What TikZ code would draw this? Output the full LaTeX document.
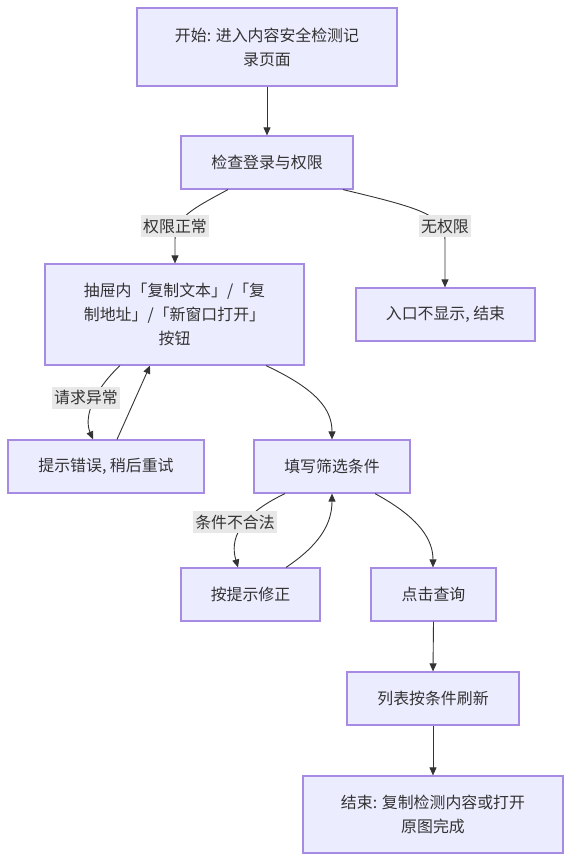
\documentclass[tikz,border=0pt]{standalone}
\usepackage{fontspec}
\setmainfont{Noto Sans CJK SC}
\usetikzlibrary{arrows.meta}
\definecolor{boxfill}{HTML}{ECECFF}
\definecolor{boxdraw}{HTML}{A78BE2}
\definecolor{edge}{HTML}{333333}
\definecolor{lblfill}{HTML}{E8E8E8}
\tikzset{
  box/.style={draw=boxdraw, fill=boxfill, line width=1.2pt, inner sep=0pt, align=center,
    font=\fontsize{15.9pt}{24pt}\selectfont, text=black!80},
  lbl/.style={fill=lblfill, inner sep=2pt, font=\fontsize{15.9pt}{20pt}\selectfont, text=black!80,
    minimum height=22pt},
  arr/.style={draw=edge, line width=0.9pt, -{Triangle[length=8pt,width=7pt]}},
}
\begin{document}
\begin{tikzpicture}[x=1pt,y=-1pt]
\useasboundingbox (0,0) rectangle (571,862);
\node[box, minimum width=260pt, minimum height=78pt] (start) at (267,47) {开始: 进入内容安全检测记\\录页面};
\node[box, minimum width=172pt, minimum height=53pt] (check) at (267,162.5) {检查登录与权限};
\node[box, minimum width=259pt, minimum height=101pt] (drawer) at (174.5,314.5) {抽屉内「复制文本」/「复\\制地址」/「新窗口打开」\\按钮};
\node[box, minimum width=179pt, minimum height=53pt] (noperm) at (445.5,314.5) {入口不显示, 结束};
\node[box, minimum width=196pt, minimum height=53pt] (err) at (106,466.5) {提示错误, 稍后重试};
\node[box, minimum width=156pt, minimum height=53pt] (fill) at (332,466.5) {填写筛选条件};
\node[box, minimum width=139pt, minimum height=53pt] (fix) at (250.5,594.5) {按提示修正};
\node[box, minimum width=125pt, minimum height=53pt] (query) at (433.5,594.5) {点击查询};
\node[box, minimum width=172pt, minimum height=53pt] (refresh) at (433,698.5) {列表按条件刷新};
\node[box, minimum width=260pt, minimum height=77pt] (end) at (433,814.5) {结束: 复制检测内容或打开\\原图完成};

% edges
\draw[arr] (start.south) -- (check.north);
\draw[arr] ([xshift=-39pt]check.south) .. controls (190,210) and (175,218) .. (175,240) -- ([xshift=0.5pt]drawer.north);
\draw[arr] ([xshift=76pt]check.south) .. controls (420,208) and (445,215) .. (445,240) -- ([xshift=-0.5pt]noperm.north);
\draw[arr] ([xshift=-54.5pt]drawer.south) .. controls (92,392) and (84,418) .. ([xshift=-13pt]err.north);
\draw[arr] ([xshift=11pt]err.north) -- ([xshift=-24.5pt]drawer.south);
\draw[arr] ([xshift=91.5pt]drawer.south) .. controls (318,390) and (332,410) .. (fill.north);
\draw[arr] ([xshift=-47pt]fill.south) .. controls (238,516) and (230,540) .. ([xshift=-12.5pt]fix.north);
\draw[arr] ([xshift=35.5pt]fix.north) .. controls (318,546) and (332,525) .. (fill.south);
\draw[arr] ([xshift=43pt]fill.south) .. controls (420,518) and (433,540) .. ([xshift=-0.5pt]query.north);
\draw[arr] (query.south) -- (refresh.north);
\draw[arr] (refresh.south) -- (end.north);

% edge labels
\node[lbl] (l1) at (175,226) {权限正常};
\node[lbl] (l2) at (445,226) {无权限};
\node[lbl] (l3) at (86,397.5) {请求异常};
\node[lbl] (l4) at (235,522) {条件不合法};
\end{tikzpicture}
\end{document}
